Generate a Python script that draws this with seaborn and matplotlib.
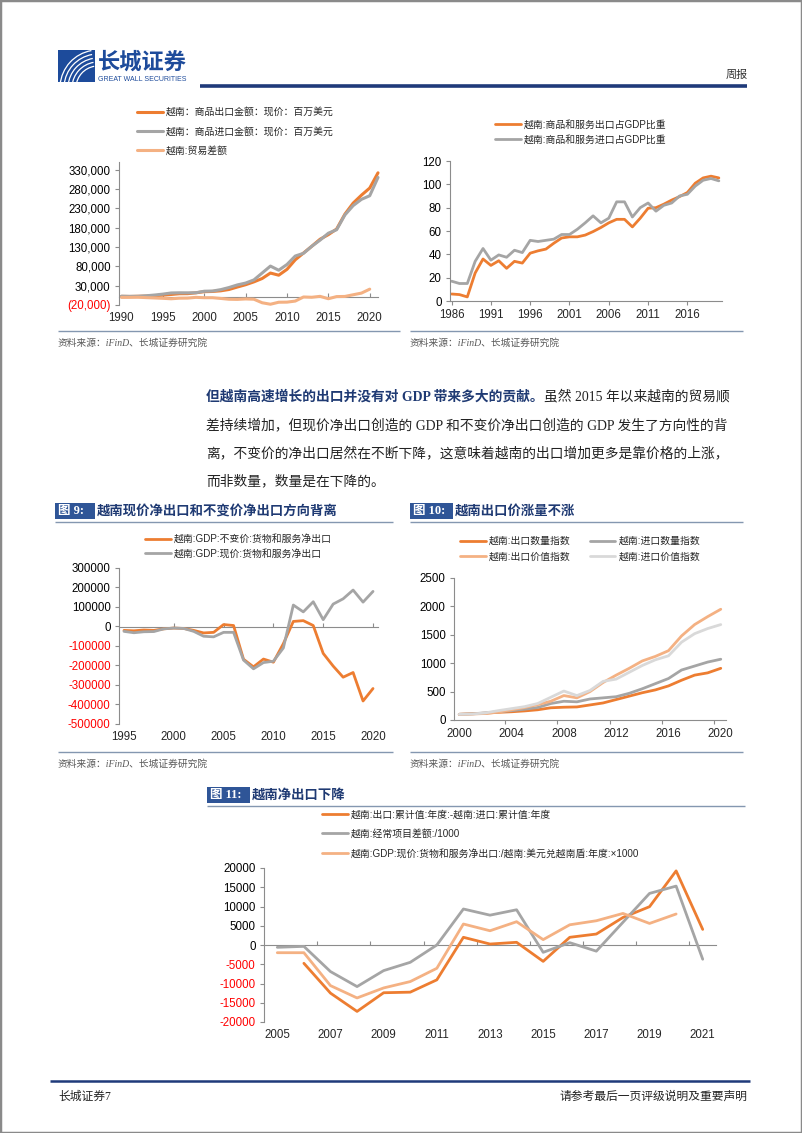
import numpy as np
import pandas as pd
import seaborn as sns
import matplotlib
matplotlib.use("Agg")
import matplotlib.pyplot as plt
from matplotlib.lines import Line2D
from matplotlib.patches import Rectangle, Arc

W, H = 802, 1133

# ---------------- data ----------------
# chart A: goods exports / imports / balance (million USD)
a_years = list(range(1990, 2022))
a_export = [2400, 2090, 2580, 2990, 4050, 5450, 7260, 9190, 9360, 11540, 14480, 15030, 16710, 20150,
            26490, 32450, 39830, 48560, 62690, 57100, 72240, 96910, 114530, 132030, 150220, 162020,
            176580, 215120, 243700, 264190, 282630, 322000]
a_import = [2750, 2340, 2540, 3920, 5830, 8160, 11140, 11590, 11500, 11740, 15640, 16160, 19750, 25260,
            31970, 36760, 44890, 62760, 80710, 69950, 84840, 106750, 113780, 132030, 147850, 165780,
            174800, 213000, 237200, 253400, 262700, 310000]
a_bal_years = list(range(1990, 2021))
a_balance = [-350, -250, 40, -930, -1780, -2710, -3880, -2400, -2140, -200, -1160, -1130, -3040, -5110,
             -5480, -4310, -5060, -14200, -18020, -12850, -12600, -9840, 750, 0, 2370, -3760, 1780,
             2120, 6500, 10790, 21000]
a_labels = ["越南：商品出口金额：现价：百万美元", "越南：商品进口金额：现价：百万美元", "越南:贸易差额"]
a_yticks = [-20000, 30000, 80000, 130000, 180000, 230000, 280000, 330000]
a_xticks = [1990, 1995, 2000, 2005, 2010, 2015, 2020]

# chart B: exports / imports of goods and services, % of GDP
b_years = list(range(1986, 2021))
b_export = [6, 5.5, 3.5, 24, 36, 30.5, 34.5, 28, 34, 32.5, 41, 43, 44.5, 49.5, 54, 55, 55, 56.5, 59.5,
            63, 67, 70, 70, 63.5, 71, 79.5, 80, 83, 86.5, 89.5, 93, 101, 105.5, 107, 105.5]
b_import = [17, 15, 15, 34, 45, 35, 39.5, 37.5, 43.5, 41.5, 52, 51, 52, 53, 57, 57, 61.5, 67, 73, 67,
            71, 85, 85, 72, 80, 84, 77, 82, 84, 90, 91.5, 98.5, 103.5, 105, 103]
b_labels = ["越南:商品和服务出口占GDP比重", "越南:商品和服务进口占GDP比重"]
b_yticks = [0, 20, 40, 60, 80, 100, 120]
b_xticks = [1986, 1991, 1996, 2001, 2006, 2011, 2016]

# chart C (fig 9): net exports, constant vs current prices
c_years = list(range(1995, 2021))
c_const = [-20000, -22000, -18000, -20000, -12000, -8000, -10000, -20000, -33000, -30000, 10000, 5000,
           -168000, -207000, -167000, -183000, -88000, 26000, 30000, 5000, -138000, -203000, -260000,
           -236000, -382000, -318000]
c_curr = [-25000, -32000, -27000, -26000, -12000, -8000, -10000, -25000, -50000, -53000, -30000, -30000,
          -172000, -217000, -185000, -178000, -110000, 110000, 75000, 127000, 35000, 115000, 142000,
          187000, 125000, 180000]
c_labels = ["越南:GDP:不变价:货物和服务净出口", "越南:GDP:现价:货物和服务净出口"]
c_yticks = [-500000, -400000, -300000, -200000, -100000, 0, 100000, 200000, 300000]
c_xticks = [1995, 2000, 2005, 2010, 2015, 2020]

# chart D (fig 10): export / import quantity and value indices
d_years = list(range(2000, 2021))
d_exp_qty = [100, 110, 120, 135, 145, 160, 180, 215, 225, 230, 265, 300, 360, 420, 480, 530, 600, 700,
             790, 830, 910]
d_imp_qty = [100, 110, 125, 145, 165, 190, 220, 290, 330, 320, 370, 390, 410, 470, 550, 640, 730, 880,
             950, 1020, 1070]
d_exp_val = [100, 105, 115, 140, 180, 220, 270, 330, 430, 390, 500, 660, 790, 910, 1040, 1120, 1220,
             1480, 1680, 1820, 1950]
d_imp_val = [100, 105, 125, 165, 200, 235, 290, 400, 510, 430, 520, 680, 720, 840, 960, 1060, 1130,
             1370, 1520, 1610, 1680]
d_labels = ["越南:出口数量指数", "越南:进口数量指数", "越南:出口价值指数", "越南:进口价值指数"]
d_yticks = [0, 500, 1000, 1500, 2000, 2500]
d_xticks = [2000, 2004, 2008, 2012, 2016, 2020]

# chart E (fig 11): net exports measures
e_trade_years = list(range(2006, 2022))
e_trade = [-4750, -12500, -17250, -12400, -12250, -9050, 2000, 250, 700, -4250, 2000, 2850, 7150, 9950,
           19250, 4050]
e_ca_years = list(range(2005, 2022))
e_ca = [-600, -350, -6900, -10800, -6650, -4500, 0, 9350, 7750, 9150, -1900, 600, -1600, 5900, 13400,
        15300, -3700]
e_gdp_years = list(range(2005, 2021))
e_gdp = [-2000, -2000, -10550, -13750, -11150, -9500, -6050, 5450, 3700, 6050, 1400, 5250, 6300, 8200,
         5600, 8050]
e_labels = ["越南:出口:累计值:年度:-越南:进口:累计值:年度", "越南:经常项目差额:/1000",
            "越南:GDP:现价:货物和服务净出口:/越南:美元兑越南盾:年度:×1000"]
e_yticks = [-20000, -15000, -10000, -5000, 0, 5000, 10000, 15000, 20000]
e_xticks = [2005, 2007, 2009, 2011, 2013, 2015, 2017, 2019, 2021]

ORANGE = "#ED7D31"
GREY = "#A5A5A5"
PEACH = "#F4B183"
LGREY = "#D9D9D9"
NAVY = "#1F3A73"
AXIS = "#8C8C8C"
RULE = "#8497B0"
SOURCE = "资料来源：iFinD、长城证券研究院"

sns.set_style("white")
plt.rcParams['font.family'] = ['Liberation Sans', 'Noto Sans CJK SC', 'DejaVu Sans']
SERIF = ['Liberation Serif', 'Noto Sans CJK SC']
CJK = ['Noto Sans CJK SC', 'DejaVu Sans']

fig = plt.figure(figsize=(W / 100, H / 100), dpi=100)


def fx(x):
    return x / W


def fy(y):
    return 1 - y / H


def add_axes(l, t, r, b):
    return fig.add_axes([fx(l), fy(b), (r - l) / W, (b - t) / H])


def hline(x0, x1, y, color, lw):
    fig.add_artist(Line2D([fx(x0), fx(x1)], [fy(y), fy(y)], transform=fig.transFigure,
                          color=color, lw=lw, solid_capstyle='butt'))


def style(ax, xlim, ylim, xticks, yticks, ylabels, zero_ticks=None, bottom_ticks=None):
    ax.set_xlim(*xlim)
    ax.set_ylim(*ylim)
    ax.set_xlabel("")
    ax.set_ylabel("")
    for s in ["top", "right"]:
        ax.spines[s].set_visible(False)
    ax.spines["left"].set_color(AXIS)
    ax.spines["left"].set_linewidth(0.8)
    ax.set_yticks(yticks, labels=ylabels)
    for lab, v in zip(ax.get_yticklabels(), yticks):
        lab.set_color("#FF0000" if v < 0 else "black")
    ax.tick_params(axis="y", left=True, length=3, width=0.8, color=AXIS, labelsize=8.3, pad=3)
    ax.set_xticks(xticks, labels=[str(x) for x in xticks])
    if zero_ticks is not None:
        ax.spines["bottom"].set_visible(False)
        ax.tick_params(axis="x", length=0, labelsize=8.3, pad=5)
        frac = (0 - ylim[0]) / (ylim[1] - ylim[0])
        sec = ax.secondary_xaxis(frac)
        sec.set_alignment("bottom")
        sec.set_xticks(zero_ticks)
        sec.tick_params(axis="x", direction="in", length=3, width=0.8, color=AXIS,
                        labelbottom=False, labeltop=False)
        sec.spines["bottom"].set_color(AXIS)
        sec.spines["bottom"].set_linewidth(0.8)
    else:
        ax.spines["bottom"].set_color(AXIS)
        ax.spines["bottom"].set_linewidth(0.8)
        if bottom_ticks is None:
            ax.tick_params(axis="x", bottom=True, length=3, width=0.8, color=AXIS, labelsize=8.3, pad=3)
        else:
            ax.tick_params(axis="x", bottom=True, length=0, labelsize=8.3, pad=6)
            ax.set_xticks(bottom_ticks, minor=True)
            ax.tick_params(axis="x", which="minor", bottom=True, length=3, width=0.8, color=AXIS)


def legend(ax, x, y, spacing, handles=None, labels=None, ncol=1, colspace=2.0):
    if handles is None:
        handles, labels = ax.get_legend_handles_labels()
    ax.legend(handles, labels, loc="upper left", bbox_to_anchor=(fx(x), fy(y)),
              bbox_transform=fig.transFigure, frameon=False, fontsize=7.1, handlelength=2.6,
              handletextpad=0.35, labelspacing=spacing, borderpad=0, borderaxespad=0,
              ncol=ncol, columnspacing=colspace)


def source(x, y, x0, x1, ry):
    hline(x0, x1, ry, RULE, 1.0)
    fig.text(fx(x), fy(y), SOURCE, fontsize=7, color="#595959", va="center", family=SERIF, style="italic")


def fig_title(x0, x1, y0, y1, tag, title, rule_x1):
    fig.add_artist(Rectangle((fx(x0), fy(y1)), (x1 - x0) / W, (y1 - y0) / H, transform=fig.transFigure,
                             fc="#2F5597", ec="none"))
    fig.text(fx(x0 + 3), fy((y0 + y1) / 2), tag, color="white", fontsize=9, fontweight="bold",
             va="center", family=SERIF)
    fig.text(fx(x1 + 2), fy((y0 + y1) / 2), title, color=NAVY, fontsize=9.6, fontweight="bold",
             va="center", family=CJK)
    hline(x0, rule_x1, y1 + 3, RULE, 1.0)


# ---------------- page frame / header / footer ----------------
fig.add_artist(Rectangle((0, 0), 1, 1, transform=fig.transFigure, fill=False, ec="#8A8A8A", lw=2.5))

logo = fig.add_axes([fx(58), fy(82), 37 / W, 32 / H])
logo.set_xlim(0, 37)
logo.set_ylim(0, 32)
logo.axis("off")
logo.add_patch(Rectangle((0, 0), 37, 32, fc="#1D4B9B", ec="none"))
for rad in [22, 26, 30, 34, 38]:
    logo.add_patch(Arc((40, -6), 2 * rad, 2 * rad, theta1=100, theta2=175, color="white", lw=0.9))
fig.text(fx(98), fy(62), "长城证券", fontsize=16, fontweight="bold", color="#1D4B9B", va="center", family=CJK)
fig.text(fx(98), fy(79.5), "GREAT WALL SECURITIES", fontsize=5, color="#1D4B9B", va="center")
hline(200, 747, 86, "#1F3A7A", 2.6)
fig.text(fx(748), fy(75), "周报", fontsize=8, color="#333333", ha="right", va="center", family=CJK)

hline(50, 750, 1081, "#1F3A7A", 1.8)
fig.text(fx(58), fy(1097), "长城证券7", fontsize=8.5, color="#222222", va="center", family=SERIF)
fig.text(fx(748), fy(1097), "请参考最后一页评级说明及重要声明", fontsize=8.5, color="#222222",
         ha="right", va="center", family=SERIF)

# ---------------- chart A ----------------
ax = add_axes(119, 162, 378, 305)
sns.lineplot(x=a_years, y=a_export, ax=ax, color=ORANGE, lw=2.2, label=a_labels[0])
sns.lineplot(x=a_years, y=a_import, ax=ax, color=GREY, lw=2.2, label=a_labels[1])
sns.lineplot(x=a_bal_years, y=a_balance, ax=ax, color=PEACH, lw=2.2, label=a_labels[2])
a_ylab = ["({:,})".format(-v) if v < 0 else "{:,}".format(v) for v in a_yticks]
style(ax, (1989.7, 2021), (-20000, 350000), a_xticks, a_yticks, a_ylab, zero_ticks=a_xticks[1:])
for ln in ax.get_lines():
    ln.set_clip_on(False)
legend(ax, 137, 107, 0.95)
source(58, 343, 58, 400, 331)

# ---------------- chart B ----------------
ax = add_axes(450, 161, 722, 301)
sns.lineplot(x=b_years, y=b_export, ax=ax, color=ORANGE, lw=2.0, label=b_labels[0])
sns.lineplot(x=b_years, y=b_import, ax=ax, color=GREY, lw=2.0, label=b_labels[1])
style(ax, (1985.8, 2020.4), (0, 120), b_xticks, b_yticks, [str(v) for v in b_yticks])
legend(ax, 495, 119.5, 0.55)
source(410, 343, 410, 743, 331)

# ---------------- paragraph ----------------
renderer = fig.canvas.get_renderer()
PARA = ['Liberation Serif', 'Noto Sans CJK SC']
p_lines = [
    ("但越南高速增长的出口并没有对 GDP 带来多大的贡献。", "虽然 2015 年以来越南的贸易顺"),
    ("", "差持续增加，但现价净出口创造的 GDP 和不变价净出口创造的 GDP 发生了方向性的背"),
    ("", "离，不变价的净出口居然在不断下降，这意味着越南的出口增加更多是靠价格的上涨，"),
    ("", "而非数量，数量是在下降的。"),
]
p_y = [397, 425, 453, 481]
for (bold, rest), yy in zip(p_lines, p_y):
    x_start = fx(206)
    if bold:
        tb = fig.text(x_start, fy(yy), bold, fontsize=9.9, fontweight="bold", color=NAVY,
                      va="center", family=PARA)
        x_start = tb.get_window_extent(renderer=renderer).x1 / W
    fig.text(x_start, fy(yy), rest, fontsize=9.9, color="#222222", va="center", family=PARA)

# ---------------- chart C (fig 9) ----------------
fig_title(55, 95, 503, 519, "图 9:", "越南现价净出口和不变价净出口方向背离", 393)
ax = add_axes(119, 568, 378, 724)
sns.lineplot(x=c_years, y=c_const, ax=ax, color=ORANGE, lw=2.0, label=c_labels[0])
sns.lineplot(x=c_years, y=c_curr, ax=ax, color=GREY, lw=2.0, label=c_labels[1])
style(ax, (1994.5, 2020.5), (-500000, 300000), c_xticks, c_yticks, [str(v) for v in c_yticks],
      zero_ticks=c_xticks[1:])
legend(ax, 145, 534, 0.5)
source(58, 764, 58, 393, 752)

# ---------------- chart D (fig 10) ----------------
fig_title(410, 453, 503, 519, "图 10:", "越南出口价涨量不涨", 743)
ax = add_axes(454, 578, 726, 720)
sns.lineplot(x=d_years, y=d_exp_qty, ax=ax, color=ORANGE, lw=2.0, label=d_labels[0])
sns.lineplot(x=d_years, y=d_imp_qty, ax=ax, color=GREY, lw=2.0, label=d_labels[1])
sns.lineplot(x=d_years, y=d_exp_val, ax=ax, color=PEACH, lw=2.0, label=d_labels[2])
sns.lineplot(x=d_years, y=d_imp_val, ax=ax, color=LGREY, lw=2.0, label=d_labels[3])
style(ax, (1999.6, 2020.4), (0, 2500), d_xticks, d_yticks, [str(v) for v in d_yticks],
      bottom_ticks=[2003.5, 2007.5, 2011.5, 2015.5, 2019.5])
h, l = ax.get_legend_handles_labels()
legend(ax, 460, 536, 0.6, handles=[h[0], h[2], h[1], h[3]], labels=[l[0], l[2], l[1], l[3]],
       ncol=2, colspace=1.9)
source(410, 764, 410, 743, 752)

# ---------------- chart E (fig 11) ----------------
fig_title(207, 250, 787, 803, "图 11:", "越南净出口下降", 745)
ax = add_axes(264, 868, 716, 1022)
sns.lineplot(x=e_trade_years, y=e_trade, ax=ax, color=ORANGE, lw=2.0, label=e_labels[0])
sns.lineplot(x=e_ca_years, y=e_ca, ax=ax, color=GREY, lw=2.0, label=e_labels[1])
sns.lineplot(x=e_gdp_years, y=e_gdp, ax=ax, color=PEACH, lw=2.0, label=e_labels[2])
style(ax, (2004.5, 2021.5), (-20000, 20000), e_xticks, e_yticks, [str(v) for v in e_yticks],
      zero_ticks=[2006.5, 2008.5, 2010.5, 2012.5, 2014.5, 2016.5, 2018.5, 2020.5])
legend(ax, 322, 809.5, 0.95)

fig.savefig("out.png", dpi=100)
